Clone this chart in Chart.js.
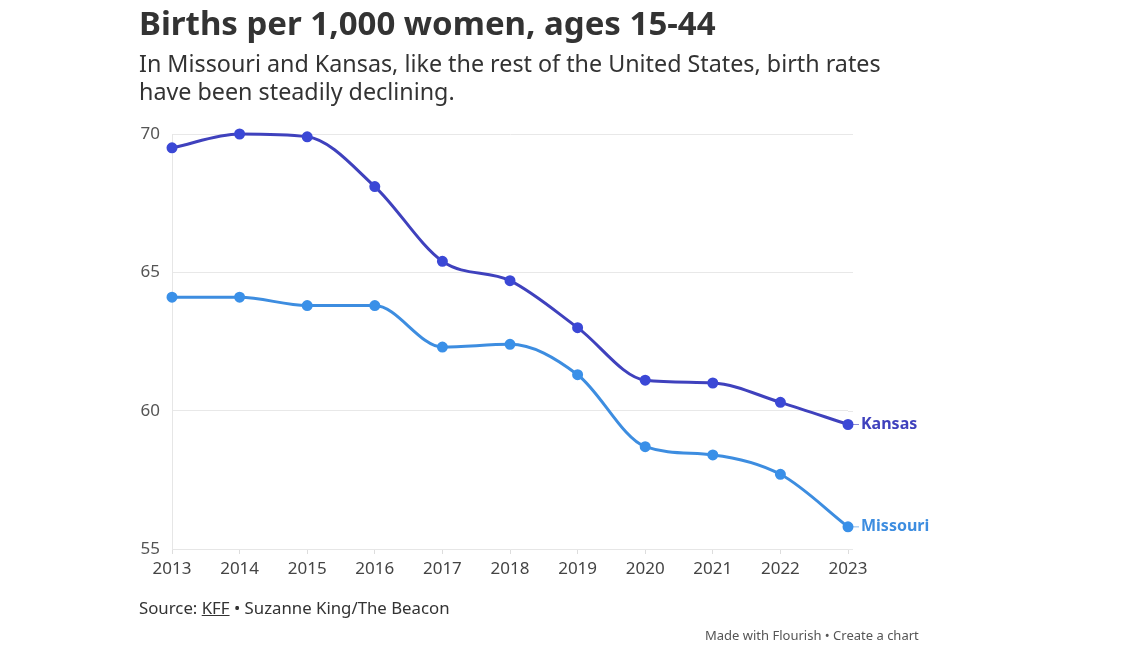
<!DOCTYPE html>
<html>
<head>
<meta charset="utf-8">
<script src="https://cdn.jsdelivr.net/npm/chart.js@4"></script>
<style>
  html, body { margin: 0; padding: 0; background: #fff; width: 1140px; height: 650px; overflow: hidden; font-family: "Noto Sans", "Open Sans", sans-serif; }
  #wrap { position: relative; width: 1140px; height: 650px; }
  canvas { position: absolute; left: 0; top: 0; }
  .title { position: absolute; left: 139px; top: 0px; font-size: 33px; font-weight: 700; color: #333; white-space: nowrap; }
  .sub { position: absolute; left: 139px; top: 49px; font-size: 23.3px; line-height: 28px; color: #333; }
  .src { position: absolute; left: 139px; top: 596px; font-size: 16.8px; color: #333; }
  .src u { text-decoration: underline; }
  .made { position: absolute; left: 705px; top: 626px; font-size: 13px; color: #555; white-space: nowrap; }
</style>
</head>
<body>
<div id="wrap">
  <canvas id="c" width="1140" height="650"></canvas>
  <div class="title">Births per 1,000 women, ages 15-44</div>
  <div class="sub">In Missouri and Kansas, like the rest of the United States, birth rates<br>have been steadily declining.</div>
  <div class="src">Source: <u>KFF</u> • Suzanne King/The Beacon</div>
  <div class="made">Made with Flourish • Create a chart</div>
</div>
<script>
const years = ["2013","2014","2015","2016","2017","2018","2019","2020","2021","2022","2023"];
const kansas = [69.5, 70.0, 69.9, 68.1, 65.4, 64.7, 63.0, 61.1, 61.0, 60.3, 59.5];
const missouri = [64.1, 64.1, 63.8, 63.8, 62.3, 62.4, 61.3, 58.7, 58.4, 57.7, 55.8];
const yTicks = [55, 60, 65, 70];

const KANSAS_COLOR = "#3f41bd";
const KANSAS_POINT = "#3b48d6";
const MISSOURI_COLOR = "#3d8de0";
const MISSOURI_POINT = "#3a90e8";

const gridExtend = {
  id: "gridExtend",
  beforeDatasetsDraw(chart) {
    const ctx = chart.ctx, y = chart.scales.y, a = chart.chartArea;
    ctx.save();
    ctx.strokeStyle = "#e8e8e8";
    ctx.lineWidth = 1;
    y.ticks.forEach(t => {
      const py = Math.round(y.getPixelForValue(t.value)) + 0.5;
      ctx.beginPath();
      ctx.moveTo(a.right, py);
      ctx.lineTo(a.right + 5, py);
      ctx.stroke();
    });
    ctx.restore();
  }
};

const endLabels = {
  id: "endLabels",
  afterDatasetsDraw(chart) {
    const ctx = chart.ctx;
    ctx.save();
    ctx.font = "bold 16px 'Noto Sans', sans-serif";
    ctx.textBaseline = "middle";
    chart.data.datasets.forEach((ds, i) => {
      const meta = chart.getDatasetMeta(i);
      const pt = meta.data[meta.data.length - 1];
      ctx.strokeStyle = ds.borderColor;
      ctx.globalAlpha = 0.6;
      ctx.lineWidth = 1;
      ctx.beginPath();
      ctx.moveTo(pt.x + 5, pt.y);
      ctx.lineTo(pt.x + 11, pt.y);
      ctx.stroke();
      ctx.globalAlpha = 1;
      ctx.fillStyle = ds.borderColor;
      ctx.fillText(ds.label, pt.x + 13, pt.y);
    });
    ctx.restore();
  }
};

new Chart(document.getElementById("c"), {
  type: "line",
  data: {
    labels: years,
    datasets: [
      { label: "Kansas", data: kansas, borderColor: KANSAS_COLOR, backgroundColor: KANSAS_POINT,
        pointBackgroundColor: KANSAS_POINT, pointBorderColor: KANSAS_POINT, borderWidth: 3,
        pointRadius: 4, cubicInterpolationMode: "monotone" },
      { label: "Missouri", data: missouri, borderColor: MISSOURI_COLOR, backgroundColor: MISSOURI_POINT,
        pointBackgroundColor: MISSOURI_POINT, pointBorderColor: MISSOURI_POINT, borderWidth: 3,
        pointRadius: 4, cubicInterpolationMode: "monotone" }
    ]
  },
  options: {
    responsive: false,
    animation: false,
    layout: { padding: { left: 0, top: 134, right: 292, bottom: 61 } },
    plugins: { legend: { display: false }, tooltip: { enabled: false }, title: { display: false } },
    scales: {
      x: {
        offset: false,
        grid: { display: true, drawOnChartArea: false, drawTicks: true, tickLength: 5, color: "#dddddd" },
        border: { display: true, color: "#e6e6e6" },
        ticks: { font: { size: 17, family: "'Noto Sans', sans-serif" }, color: "#444", padding: 5, maxRotation: 0 },
        afterFit(s) { s.height = 40; }
      },
      y: {
        min: 55, max: 70,
        afterBuildTicks(s) { s.ticks = yTicks.map(v => ({ value: v })); },
        grid: { color: "#e8e8e8", drawTicks: false, lineWidth: 1 },
        border: { display: true, color: "#e6e6e6" },
        ticks: { font: { size: 17, family: "'Noto Sans', sans-serif" }, color: "#555", padding: 12 },
        afterFit(s) { s.width = 172; }
      }
    },
    clip: false
  },
  plugins: [gridExtend, endLabels]
});
</script>
</body>
</html>
